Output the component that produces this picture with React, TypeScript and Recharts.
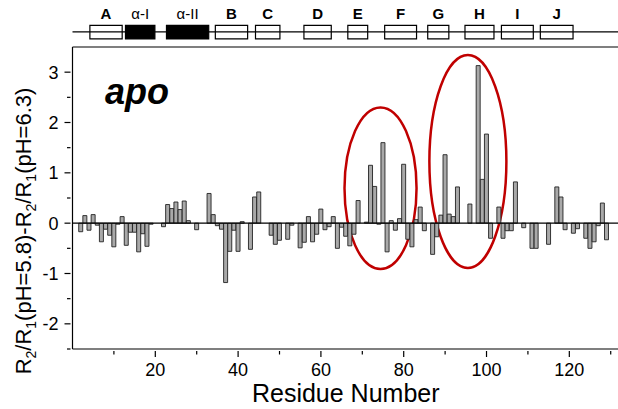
import { Bar, BarChart, ReferenceArea, ReferenceLine, XAxis, YAxis } from "recharts";

// R2/R1(pH 5.8) - R2/R1(pH 6.3) per residue, starting at residue 1
const deltaR = [
  0, -0.17, 0.15, -0.14, 0.17, -0.04, -0.37, -0.12, -0.24, -0.47,
  -0.02, 0.13, -0.44, -0.18, -0.18, -0.57, -0.21, -0.46, -0.02, 0,
  0, -0.07, 0.37, 0.29, 0.42, 0.27, 0.44, 0.05, 0, -0.13,
  0, 0, 0.59, 0.17, -0.05, -0.12, -1.18, -0.56, -0.14, -0.56,
  0.03, 0, -0.52, 0.52, 0.62, 0, 0, -0.24, -0.42, -0.34,
  0, -0.32, -0.04, 0, -0.49, -0.38, 0.13, -0.37, -0.22, 0.28,
  -0.13, -0.07, 0.13, -0.5, -0.08, -0.26, -0.45, -0.22, 0.45, 0,
  0.02, 1.15, 0.73, -0.02, 1.6, -0.57, 0.05, -0.14, 0.09, 1.17,
  -0.32, -0.47, 0.07, 0.32, -0.15, 0, -0.62, -0.27, 0.16, 1.36,
  0.18, 0.13, 0.72, 0, 0, 0.38, 0, 3.13, 0.87, 1.77,
  -0.3, 0, 0.32, -0.3, -0.15, -0.15, 0.82, 0, -0.09, 0,
  -0.5, -0.5, 0, 0, -0.42, 0, 0.72, 0.52, -0.13, 0,
  -0.2, -0.11, 0, -0.3, -0.5, -0.37, -0.05, 0.4, -0.33,
];

const xTicks = [10, 20, 30, 40, 50, 60, 70, 80, 90, 100, 110, 120, 130];
const xLabelled = [20, 40, 60, 80, 100, 120];
const yTicks = [-2.5, -2, -1.5, -1, -0.5, 0, 0.5, 1, 1.5, 2, 2.5, 3];

// secondary structure elements (residue ranges)
const ssLabels = ["A", "α-I", "α-II", "B", "C", "D", "E", "F", "G", "H", "I", "J"];
const ssStart = [4.2, 12.8, 22.7, 34.5, 44.2, 55.9, 66.5, 75.4, 85.8, 94.8, 103.6, 113.0];
const ssEnd = [12.0, 19.9, 32.9, 42.3, 50.1, 62.5, 71.3, 83.1, 90.9, 101.8, 111.3, 120.9];
const ssHelix = [false, true, true, false, false, false, false, false, false, false, false, false];

// highlighted regions (residue range, value range)
const hiX1 = [65.7, 86.2];
const hiX2 = [83.1, 104.8];
const hiY1 = [-0.91, -0.89];
const hiY2 = [2.3, 3.34];

const data = deltaR.map((v, i) => ({ residue: i + 1, value: v }));

const FONT = "'Liberation Sans', Arial, sans-serif";

function XTick(props: any) {
  const { x, y, payload } = props;
  const major = xLabelled.includes(payload.value);
  return (
    <g>
      <line x1={x} x2={x} y1={y} y2={y + (major ? 6 : 3.5)} stroke="#000" strokeWidth={1.2} />
      {major && (
        <text x={x} y={y + 25} textAnchor="middle" fontSize={18} fontFamily={FONT} fill="#000">
          {payload.value}
        </text>
      )}
    </g>
  );
}

function YTick(props: any) {
  const { x, y, payload } = props;
  const major = Number.isInteger(payload.value);
  return (
    <g>
      <line x1={x - (major ? 6 : 3.5)} x2={x} y1={y} y2={y} stroke="#000" strokeWidth={1.2} />
      {major && (
        <text x={x - 12} y={y + 6.5} textAnchor="end" fontSize={18} fontFamily={FONT} fill="#000">
          {payload.value}
        </text>
      )}
    </g>
  );
}

function Ellipse(props: any) {
  const { x, y, width, height } = props;
  return (
    <ellipse
      cx={x + width / 2}
      cy={y + height / 2}
      rx={width / 2}
      ry={height / 2}
      fill="none"
      stroke="#c00000"
      strokeWidth={2.5}
    />
  );
}

export default function App() {
  return (
    <div style={{ position: "absolute", left: 0, top: 0, width: 618, height: 409, overflow: "hidden", background: "#fff" }}>
      <BarChart
        width={620}
        height={409}
        data={data}
        margin={{ top: 47, right: 1, left: 0, bottom: 0 }}
      >
        <XAxis
          dataKey="residue"
          type="number"
          domain={[0, 132]}
          ticks={xTicks}
          interval={0}
          tick={<XTick />}
          tickLine={false}
          tickSize={0}
          height={60}
          allowDataOverflow
          axisLine={{ stroke: "#000", strokeWidth: 1.2 }}
          label={{ value: "Residue Number", position: "insideBottom", offset: 7, fontSize: 25, fill: "#000", fontFamily: FONT }}
        />
        <YAxis
          type="number"
          domain={[-2.5, 3.5]}
          ticks={yTicks}
          interval={0}
          tick={<YTick />}
          tickLine={false}
          tickSize={0}
          width={72.5}
          allowDataOverflow
          axisLine={{ stroke: "#000", strokeWidth: 1.2 }}
        />
        <ReferenceLine y={3.5} stroke="#000" strokeWidth={1.2} />
        <ReferenceLine
          segment={[{ x: 0, y: 3.8 }, { x: 132, y: 3.8 }]}
          stroke="#000"
          strokeWidth={1.2}
          ifOverflow="visible"
        />
        {ssLabels.map((lab, i) => (
          <ReferenceArea
            key={lab}
            x1={ssStart[i]}
            x2={ssEnd[i]}
            y1={3.66}
            y2={3.93}
            fill={ssHelix[i] ? "#000" : "#fff"}
            fillOpacity={1}
            stroke="#000"
            strokeWidth={1.2}
            ifOverflow="visible"
            label={{ value: lab, position: "top", offset: 6, fontSize: 15, fontWeight: ssHelix[i] ? "normal" : "bold", fill: "#000", fontFamily: FONT }}
          />
        ))}
        <Bar dataKey="value" fill="#a9a9a9" stroke="#222" strokeWidth={0.9} barSize={4} isAnimationActive={false} />
        <ReferenceLine y={0} stroke="#000" strokeWidth={1.2} />
        {hiX1.map((x1, i) => (
          <ReferenceArea
            key={"hi" + i}
            x1={x1}
            x2={hiX2[i]}
            y1={hiY1[i]}
            y2={hiY2[i]}
            shape={<Ellipse />}
            ifOverflow="visible"
          />
        ))}
      </BarChart>
      <svg width={618} height={409} style={{ position: "absolute", left: 0, top: 0, pointerEvents: "none" }}>
        <text
          transform="translate(31,231) rotate(-90)"
          textAnchor="middle"
          fontSize={22}
          fontFamily={FONT}
          fill="#000"
        >
          R<tspan fontSize={14} dy={5}>2</tspan>
          <tspan dy={-5}>/R</tspan>
          <tspan fontSize={14} dy={5}>1</tspan>
          <tspan dy={-5}>(pH=5.8)-R</tspan>
          <tspan fontSize={14} dy={5}>2</tspan>
          <tspan dy={-5}>/R</tspan>
          <tspan fontSize={14} dy={5}>1</tspan>
          <tspan dy={-5}>(pH=6.3)</tspan>
        </text>
        <text x={105} y={104} fontSize={36} fontWeight="bold" fontStyle="italic" fontFamily={FONT} fill="#000">
          apo
        </text>
      </svg>
    </div>
  );
}
